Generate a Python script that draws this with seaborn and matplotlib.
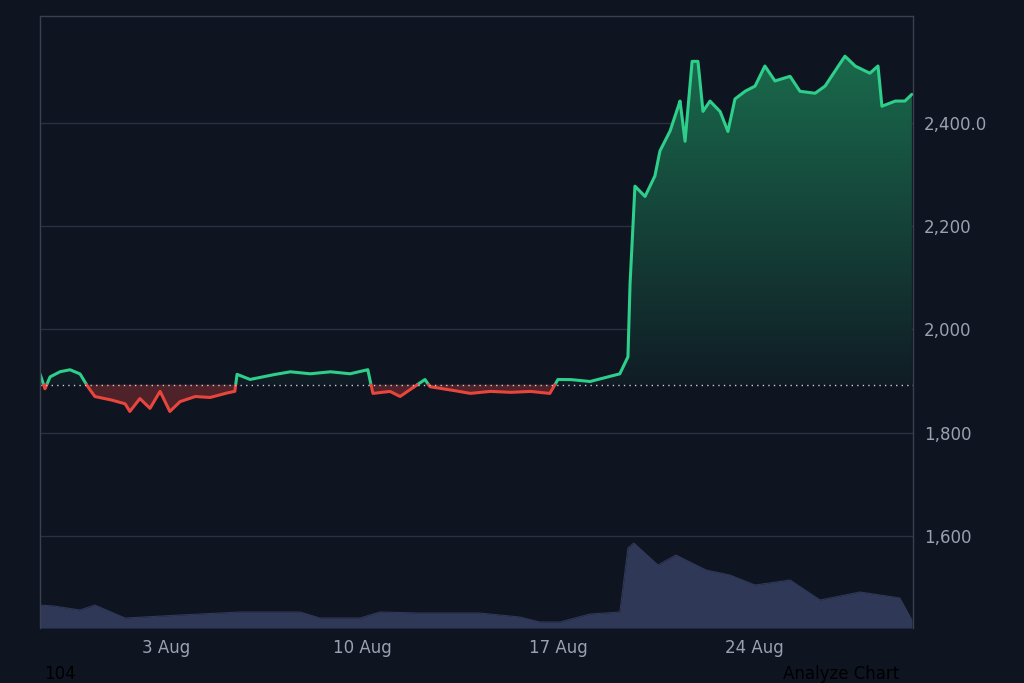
import numpy as np
import pandas as pd
import matplotlib
matplotlib.use("Agg")
import matplotlib.pyplot as plt
import matplotlib.dates as mdates
from matplotlib.patches import Polygon
import seaborn as sns

sns.set_style("dark")
plt.rcParams['font.family'] = ['DejaVu Sans']

start = pd.Timestamp("2024-07-29 12:00")
days = [0,0.18,0.36,0.71,1.07,1.43,1.71,1.96,2.5,3.04,3.21,3.57,3.93,4.29,4.64,5.0,5.54,6.07,6.61,6.96,
        7.04,7.5,8.21,8.93,9.64,10.36,11.07,11.71,11.89,12.5,12.86,13.21,13.75,13.93,14.64,15.36,16.07,
        16.79,17.5,18.21,18.5,18.93,19.64,20.36,20.71,21.0,21.07,21.25,21.61,21.96,22.14,22.5,22.86,23.04,
        23.29,23.5,23.68,23.93,24.29,24.57,24.82,25.18,25.54,25.89,26.25,26.79,27.14,27.68,28.04,28.39,
        28.75,29.11,29.64,29.93,30.07,30.54,30.89,31.14]
price = [1914,1885,1908,1918,1922,1914,1889,1870,1864,1856,1841,1866,1847,1880,1841,1860,1870,1868,1876,1880,
         1913,1903,1911,1918,1914,1918,1914,1922,1876,1880,1870,1883,1903,1889,1883,1876,1880,
         1878,1880,1876,1903,1903,1899,1909,1914,1947,2083,2278,2258,2297,2346,2384,2443,2365,
         2520,2520,2423,2443,2423,2384,2447,2462,2472,2511,2482,2491,2462,2458,2472,2501,
         2530,2511,2497,2511,2433,2443,2443,2456]
vol_days = [0,0.5,1.43,1.96,3.04,5.0,7.14,9.29,10.0,11.43,12.14,13.57,15.71,17.14,17.86,18.57,19.64,20.71,
            21.0,21.21,22.07,22.71,23.79,24.64,25.54,26.79,27.86,29.29,30.71,31.14]
volume = [23,22,18,23,10,13,16,16,10,10,16,15,15,11,6,6,14,16,
          80,85,63,73,58,53,43,48,28,36,30,8]
baseline = 1893
ticks = [1600, 1800, 2000, 2200, 2400]
tick_labels = ["1,600", "1,800", "2,000", "2,200", "2,400.0"]
xtick_dates = ["2024-08-03", "2024-08-10", "2024-08-17", "2024-08-24"]
xtick_labels = ["3 Aug", "10 Aug", "17 Aug", "24 Aug"]

BG = "#0f1421"
GREEN = "#2dcf8b"
RED = "#e8453c"
TXT = "#9aa1b0"

fig = plt.figure(figsize=(10.24, 6.83), dpi=100, facecolor=BG)
ax = fig.add_axes([0.039, 0.0805, 0.8526, 0.8961], facecolor=BG)
ax2 = ax.twinx()
ax2.set_zorder(0); ax.set_zorder(1); ax.patch.set_visible(False)
ax2.patch.set_facecolor(BG)

# volume
vd = start + pd.to_timedelta(vol_days, unit="D")
vdf = pd.DataFrame({"t": vd, "v": volume})
sns.lineplot(data=vdf, x="t", y="v", ax=ax2, color="#2f3857", lw=0.8)
ax2.fill_between(vdf["t"], 0, vdf["v"], color="#2f3857", lw=0)
ax2.set_ylim(0, 612)
ax2.set_yticks([]); ax2.set_ylabel(""); ax2.set_xlabel("")

# price (dense linear resampling of the same polyline for two-colour split)
x = np.array(days)
fine = np.linspace(x[0], x[-1], 6000)
fx = np.sort(np.concatenate([fine, x]))
fy = np.interp(fx, x, price)
t = mdates.date2num(start) + fx
above = fy >= baseline
ax.plot(t, np.where(above, fy, np.nan), color=GREEN, lw=2.2, solid_capstyle="round")
ax.plot(t, np.where(~above, fy, np.nan), color=RED, lw=2.2, solid_capstyle="round")
ax.fill_between(t, baseline, fy, where=~above, color="#7a2a2e", alpha=0.6, lw=0, interpolate=True)

# green gradient fill
ylo, yhi = 1421, 2608
grad = np.linspace(0.55, 0.05, 256).reshape(-1, 1)
cmap = matplotlib.colors.LinearSegmentedColormap.from_list("g", [(0.06, 0.08, 0.13, 1), (0.1, 0.42, 0.3, 1)])
im = ax.imshow(grad[::-1], extent=[t[0], t[-1], baseline, 2540], aspect="auto", cmap=cmap,
               vmin=0, vmax=0.55, origin="lower", zorder=0.5)
gy = np.maximum(fy, baseline)
poly = Polygon(np.column_stack([np.r_[t, t[::-1]], np.r_[gy, np.full_like(gy, baseline)]]),
               closed=True, transform=ax.transData, facecolor="none", edgecolor="none")
ax.add_patch(poly)
im.set_clip_path(poly)

ax.axhline(baseline, color="#c8ccd4", lw=1, ls=(0, (1, 3)))
for v in ticks:
    ax.axhline(v, color="#2a3040", lw=1, zorder=0.2)

ax.set_ylim(ylo, yhi)
x0 = mdates.date2num(start); ax.set_xlim(x0, x0 + 31.18)
ax2.set_xlim(ax.get_xlim())
ax.yaxis.tick_right()
ax.set_yticks(ticks); ax.set_yticklabels(tick_labels, color=TXT, fontsize=12)
ax.set_xticks(mdates.date2num(pd.to_datetime(xtick_dates)))
ax.set_xticklabels(xtick_labels, color=TXT, fontsize=12)
ax.tick_params(length=0, pad=8)
ax.tick_params(axis="y", pad=8)
for s in ax.spines.values():
    s.set_color("#3a4050"); s.set_linewidth(1)
for s in ax2.spines.values():
    s.set_visible(False)
ax.spines["bottom"].set_visible(False)
ax.grid(False); ax2.grid(False)

fig.text(0.043, 0.0, "104", color="black", fontsize=12, va="bottom")
fig.text(0.765, 0.0, "Analyze Chart", color="black", fontsize=12, va="bottom")
fig.savefig("out.png", dpi=100, facecolor=BG)
